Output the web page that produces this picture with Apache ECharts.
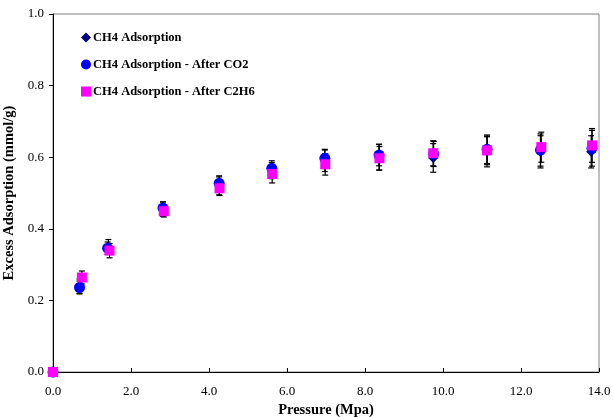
<!DOCTYPE html>
<html>
<head>
<meta charset="utf-8">
<script src="https://cdn.jsdelivr.net/npm/echarts@6/dist/echarts.min.js"></script>
<style>
html,body{margin:0;padding:0;background:#fff;}
#main{width:613px;height:417px;}
</style>
</head>
<body>
<div id="main"></div>
<script>
// Data
var seriesNames = ['CH4 Adsorption', 'CH4 Adsorption - After CO2', 'CH4 Adsorption - After C2H6'];

var pressureCH4  = [0, 0.68, 1.42, 2.82, 4.26, 5.61, 6.97, 8.36, 9.75, 11.13, 12.5, 13.8];
var adsorbCH4    = [0, 0.240, 0.350, 0.455, 0.520, 0.565, 0.590, 0.600, 0.598, 0.615, 0.615, 0.615];
var errorCH4     = [0, 0.020, 0.020, 0.020, 0.025, 0.025, 0.030, 0.036, 0.040, 0.042, 0.045, 0.045];

var pressureCO2  = [0, 0.68, 1.40, 2.82, 4.26, 5.61, 6.97, 8.36, 9.76, 11.13, 12.5, 13.82];
var adsorbCO2    = [0, 0.236, 0.346, 0.458, 0.527, 0.569, 0.597, 0.606, 0.609, 0.622, 0.620, 0.625];
var errorCO2     = [0, 0.018, 0.017, 0.017, 0.021, 0.016, 0.025, 0.030, 0.035, 0.040, 0.045, 0.050];

var pressureC2H6 = [0, 0.74, 1.45, 2.84, 4.27, 5.62, 6.98, 8.37, 9.75, 11.13, 12.52, 13.82];
var adsorbC2H6   = [0, 0.264, 0.339, 0.449, 0.513, 0.553, 0.580, 0.597, 0.611, 0.619, 0.628, 0.633];
var errorC2H6    = [0, 0.018, 0.020, 0.016, 0.020, 0.025, 0.030, 0.033, 0.035, 0.040, 0.042, 0.047];

var xTicks = { min: 0, max: 14, interval: 2 };
var yTicks = { min: 0, max: 1, interval: 0.2 };

var colors = ['#000080', '#0000FF', '#FF00FF'];
var symbols = ['diamond', 'circle', 'rect'];
var symbolSizes = [10, 11, 10];

function pts(xs, ys) { return xs.map(function (x, i) { return [x, ys[i]]; }); }
function errs(xs, ys, es) {
  var out = [];
  xs.forEach(function (x, i) { if (es[i] > 0) out.push([x, ys[i] - es[i], ys[i] + es[i]]); });
  return out;
}

var groups = [
  [pressureCH4, adsorbCH4, errorCH4],
  [pressureCO2, adsorbCO2, errorCO2],
  [pressureC2H6, adsorbC2H6, errorC2H6]
];

var serif = '"Liberation Serif", "Times New Roman", serif';

function errRender(params, api) {
  var x = api.value(0);
  var lo = api.coord([x, api.value(1)]);
  var hi = api.coord([x, api.value(2)]);
  var hw = 3;
  var st = { stroke: '#000', lineWidth: 1.2 };
  return {
    type: 'group',
    children: [
      { type: 'line', shape: { x1: lo[0], y1: lo[1], x2: hi[0], y2: hi[1] }, style: st },
      { type: 'line', shape: { x1: lo[0] - hw, y1: lo[1], x2: lo[0] + hw, y2: lo[1] }, style: st },
      { type: 'line', shape: { x1: hi[0] - hw, y1: hi[1], x2: hi[0] + hw, y2: hi[1] }, style: st }
    ]
  };
}

var series = [];
groups.forEach(function (g, k) {
  series.push({
    type: 'custom',
    name: seriesNames[k] + ' err',
    renderItem: errRender,
    data: errs(g[0], g[1], g[2]),
    z: 1,
    silent: true
  });
});
groups.forEach(function (g, k) {
  series.push({
    type: 'scatter',
    name: seriesNames[k],
    data: pts(g[0], g[1]),
    symbol: symbols[k],
    symbolSize: symbolSizes[k],
    itemStyle: { color: colors[k], opacity: 1 },
    clip: false,
    z: 3 + k
  });
});

var chart = echarts.init(document.getElementById('main'), null, { renderer: 'canvas' });
chart.setOption({
  animation: false,
  backgroundColor: '#fff',
  grid: {
    left: 53, right: 14, top: 14, bottom: 45,
    outerBoundsMode: 'none',
    containLabel: false,
    show: true, borderColor: '#808080', borderWidth: 1, backgroundColor: 'transparent'
  },
  legend: {
    orient: 'vertical',
    left: 76, top: 26,
    itemGap: 14,
    itemWidth: 10, itemHeight: 10,
    textStyle: { fontFamily: serif, fontWeight: 'bold', fontSize: 12.5, color: '#000', padding: [0, 0, 0, -3] },
    data: seriesNames.map(function (n, k) { return { name: n, icon: symbols[k], itemStyle: { color: colors[k], opacity: 1 } }; })
  },
  xAxis: {
    type: 'value',
    min: xTicks.min, max: xTicks.max, interval: xTicks.interval,
    name: 'Pressure (Mpa)',
    nameLocation: 'middle',
    nameGap: 23,
    nameTextStyle: { fontFamily: serif, fontWeight: 'bold', fontSize: 14.5, color: '#000', verticalAlign: 'top' },
    axisLine: { show: true, onZero: false, lineStyle: { color: '#000', width: 1 } },
    axisTick: { show: true, inside: true, length: 4, lineStyle: { color: '#000' } },
    axisLabel: { fontFamily: serif, fontSize: 13, color: '#000', margin: 13,
      formatter: function (v) { return v.toFixed(1); } },
    splitLine: { show: false }
  },
  yAxis: {
    type: 'value',
    min: yTicks.min, max: yTicks.max, interval: yTicks.interval,
    name: 'Excess Adsorption (mmol/g)',
    nameLocation: 'middle',
    nameGap: 29,
    nameTextStyle: { fontFamily: serif, fontWeight: 'bold', fontSize: 14.5, color: '#000' },
    axisLine: { show: true, onZero: false, lineStyle: { color: '#000', width: 1 } },
    axisTick: { show: true, inside: false, length: 4, lineStyle: { color: '#000' } },
    axisLabel: { fontFamily: serif, fontSize: 13, color: '#000', margin: 9,
      formatter: function (v) { return v.toFixed(1); } },
    splitLine: { show: false }
  },
  series: series
});
</script>
</body>
</html>
